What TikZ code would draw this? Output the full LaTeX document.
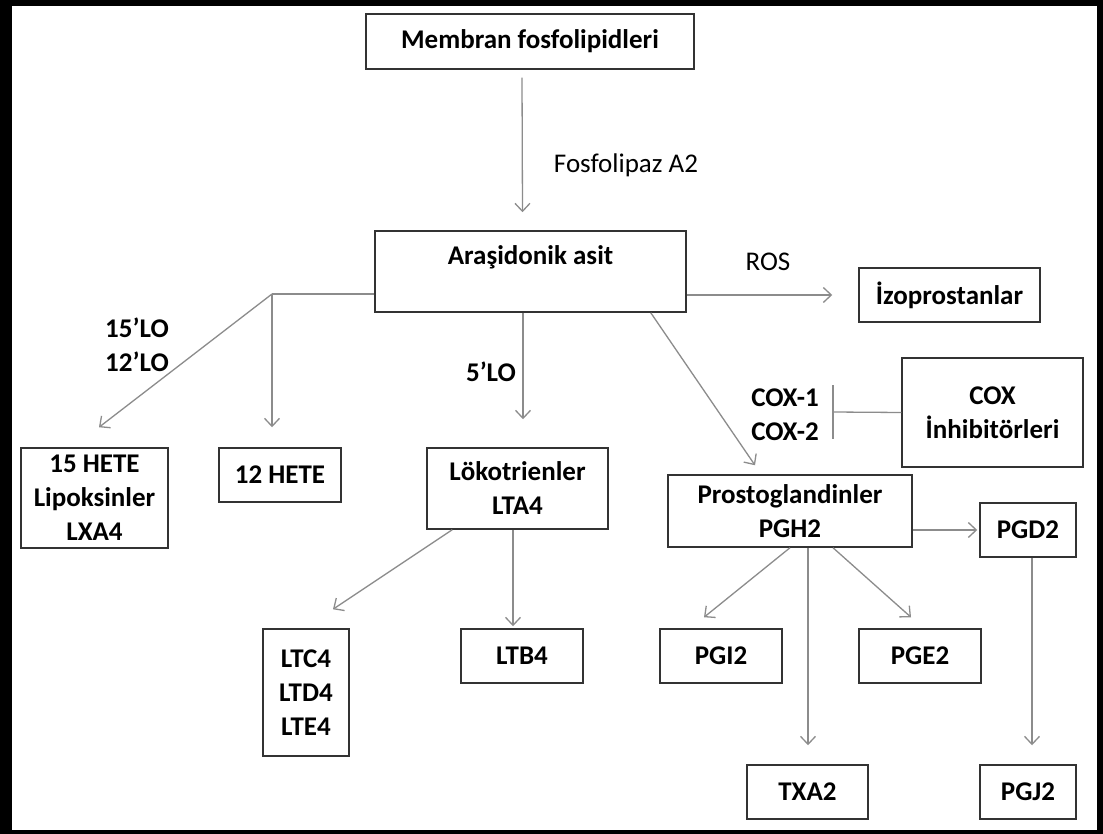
\documentclass[tikz,border=0pt]{standalone}
\usepackage{fontspec}
\setmainfont{Carlito}
\usetikzlibrary{arrows.meta,calc}
\begin{document}
\begin{tikzpicture}[x=1pt,y=-1pt,
  box/.style={draw=black!80, line width=1.5pt, inner sep=0pt, align=center,
              font=\bfseries\fontsize{27}{34}\selectfont},
  arr/.style={draw=black!45, line width=1.3pt,
              -{Straight Barb[length=8pt,width=15pt,line width=1.3pt]}},
  con/.style={draw=black!45, line width=1.3pt},
  lbl/.style={inner sep=0pt, align=center, font=\bfseries\fontsize{27}{34}\selectfont},
  rlbl/.style={inner sep=0pt, font=\fontsize{27}{34}\selectfont}]
% frame
\fill[black] (0,0) rectangle (1103,834);
\fill[white] (12,6) rectangle (1097,830);
\useasboundingbox (0,0) rectangle (1103,834);

% nodes
\node[box, minimum width=328pt, minimum height=55pt] (mem) at (530,41.5) {Membran fosfolipidleri};
\node[box, minimum width=311pt, minimum height=81pt] (ara) at (530.5,271.5)
  {\raisebox{14pt}[0.7em][0.2em]{Araşidonik asit}};
\node[box, minimum width=181pt, minimum height=54pt] (iz) at (949.5,295) {İzoprostanlar};
\node[box, minimum width=181pt, minimum height=109pt] (cox) at (992.5,412.5) {COX\\İnhibitörleri};
\node[box, minimum width=244pt, minimum height=72pt] (pros) at (790,511) {Prostoglandinler\\PGH2};
\node[box, minimum width=96pt, minimum height=54pt] (pgd2) at (1028,530) {PGD2};
\node[box, minimum width=122pt, minimum height=54pt] (pgi2) at (721,656) {PGI2};
\node[box, minimum width=122pt, minimum height=54pt] (pge2) at (920,656) {PGE2};
\node[box, minimum width=121pt, minimum height=54pt] (txa2) at (807.5,792) {TXA2};
\node[box, minimum width=96pt, minimum height=54pt] (pgj2) at (1028,792) {PGJ2};
\node[box, minimum width=147pt, minimum height=100pt] (h15) at (94.5,498) {15 HETE\\Lipoksinler\\LXA4};
\node[box, minimum width=122pt, minimum height=54pt] (h12) at (280,475) {12 HETE};
\node[box, minimum width=181pt, minimum height=81pt] (lok) at (517.5,488.5) {Lökotrienler\\LTA4};
\node[box, minimum width=86pt, minimum height=127pt] (ltc) at (306,692.5) {LTC4\\LTD4\\LTE4};
\node[box, minimum width=122pt, minimum height=54pt] (ltb) at (522,656) {LTB4};

% labels
\node[rlbl] (fos) at (626,165) {Fosfolipaz A2};
\node[rlbl] (ros) at (768,262) {ROS};
\node[lbl] (lo1512) at (137,344.5) {15’LO\\12’LO};
\node[lbl] (lo5) at (491,372) {5’LO};
\node[lbl] (cox12) at (785,415) {COX-1\\COX-2};

% connectors
\draw[arr] ([xshift=-8pt,yshift=-8pt]mem.south) -- ([xshift=-8pt,yshift=18pt]ara.north);
\draw[arr] (ara.east |- iz.west) -- ([xshift=-26pt]iz.west);
\coordinate (j) at (272,294);
\draw[con] (ara.west |- j) -- (j);
\draw[arr] (j) -- ($(h15.north)+(4.5,-20)$);
\draw[arr] (j) -- ($(h12.north)+(-8,-20)$);
\draw[arr] ($(ara.south)+(-7.5,0)$) -- ($(lok.north)+(5.5,-28)$);
\draw[arr] ($(ara.south east)+(-36,0)$) -- ($(pros.north)+(-35,-9)$);
\coordinate (bar) at (833,412);
\draw[con] (cox.west) -- (bar);
\draw[con] ($(bar)+(0,-27)$) -- ($(bar)+(0,27)$);
\draw[arr] (pros.east |- pgd2.west) -- ([xshift=-2pt]pgd2.west);
\draw[arr] (pros.south) -- ($(pgi2.north)+(-17,-11)$);
\draw[arr] ($(pros.south)+(18,0)$) -- ($(txa2.north)+(0.5,-19)$);
\draw[arr] ($(pros.south)+(43,0)$) -- ($(pge2.north)+(-9,-11)$);
\draw[arr] ($(pgd2.south)+(4,0)$) -- ($(pgj2.north)+(4,-19)$);
\draw[arr] ($(lok.south west)+(26,0)$) -- ($(ltc.north)+(27,-19)$);
\draw[arr] ($(lok.south)+(-4.5,0)$) -- ($(ltb.north)+(-9,-2)$);
\end{tikzpicture}
\end{document}
